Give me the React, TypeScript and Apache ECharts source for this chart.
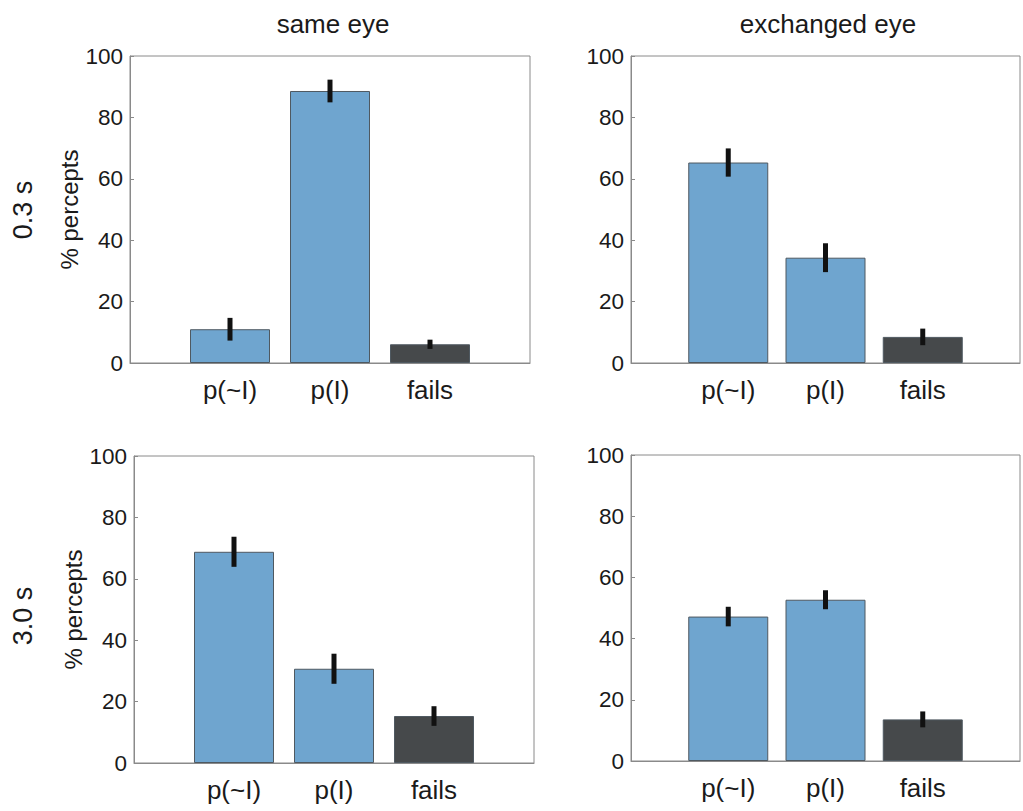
import React, { useEffect, useRef } from "react";
import * as echarts from "echarts";

const categories = ["p(~I)", "p(I)", "fails"];
const panelTitles = ["same eye", "exchanged eye"];
const rowLabels = ["0.3 s", "3.0 s"];
const yTicks = [0, 20, 40, 60, 80, 100];

// values [p(~I), p(I), fails], errors (half length)
const shortSame = [11.0, 88.6, 6.1];
const shortSameErr = [3.7, 3.7, 1.5];
const shortExch = [65.3, 34.3, 8.5];
const shortExchErr = [4.6, 4.7, 2.7];
const longSame = [68.8, 30.7, 15.3];
const longSameErr = [4.9, 4.9, 3.2];
const longExch = [47.2, 52.7, 13.6];
const longExchErr = [3.2, 3.1, 2.6];

const BLUE = "#6fa5cf";
const DARK = "#46494b";
const FRAME = "#8a8a8a";
const FONT = "Liberation Sans";
const TXT = "#1a1a1a";

const panels = [
  { vals: shortSame, errs: shortSameErr, grid: { left: 130, top: 56, width: 400, height: 307 }, yName: true },
  { vals: shortExch, errs: shortExchErr, grid: { left: 631, top: 56, width: 400, height: 307 }, yName: false },
  { vals: longSame, errs: longSameErr, grid: { left: 134, top: 456, width: 400, height: 307 }, yName: true },
  { vals: longExch, errs: longExchErr, grid: { left: 631, top: 455, width: 400, height: 306 }, yName: false },
];

export default function App() {
  const ref = useRef<HTMLDivElement>(null);
  useEffect(() => {
    if (!ref.current) return;
    const chart = echarts.init(ref.current, undefined, { renderer: "svg" });
    const grid: any[] = [];
    const xAxis: any[] = [];
    const yAxis: any[] = [];
    const series: any[] = [];
    panels.forEach((p, i) => {
      grid.push({ ...p.grid, show: true, borderColor: FRAME, borderWidth: 1, backgroundColor: "#fff" });
      xAxis.push({
        type: "value",
        gridIndex: i,
        min: 0,
        max: 4,
        interval: 1,
        splitLine: { show: false },
        axisTick: { show: false },
        axisLine: { show: true, onZero: false, lineStyle: { color: FRAME, width: 1 } },
        axisLabel: {
          margin: 14,
          fontFamily: FONT,
          fontSize: 26,
          color: TXT,
          formatter: (v: number) => (v >= 1 && v <= 3 ? categories[v - 1] : ""),
        },
      });
      yAxis.push({
        type: "value",
        gridIndex: i,
        min: 0,
        max: yTicks[yTicks.length - 1],
        interval: 20,
        splitLine: { show: false },
        axisLine: { show: true, lineStyle: { color: FRAME, width: 1 } },
        axisTick: { show: true, inside: true, length: 4, lineStyle: { color: FRAME } },
        axisLabel: { margin: 7, fontFamily: FONT, fontSize: 22.5, color: TXT },
        name: p.yName ? "% percepts" : "",
        nameLocation: "middle",
        nameRotate: 90,
        nameGap: 46,
        nameTextStyle: { fontFamily: FONT, fontSize: 24, color: TXT },
      });
      series.push({
        type: "bar",
        xAxisIndex: i,
        yAxisIndex: i,
        barWidth: 80,
        data: p.vals.map((v, k) => ({
          value: [k + 1, v],
          itemStyle: { color: k === 2 ? DARK : BLUE, borderColor: "#4f5961", borderWidth: 1 },
        })),
        z: 2,
      });
      series.push({
        type: "custom",
        xAxisIndex: i,
        yAxisIndex: i,
        data: p.vals.map((v, k) => [k + 1, v, p.errs[k]]),
        encode: { x: 0, y: 1 },
        z: 5,
        renderItem: (params: any, api: any) => {
          const x = api.value(0);
          const y = api.value(1);
          const e = api.value(2);
          const top = api.coord([x, y + e]);
          const bot = api.coord([x, y - e]);
          return {
            type: "rect",
            shape: { x: top[0] - 2.5, y: top[1], width: 5, height: bot[1] - top[1] },
            style: { fill: "#111" },
          };
        },
      });
    });
    const t = (text: string, x: number, y: number, size: number, rot = 0) => ({
      type: "text",
      x,
      y,
      rotation: rot,
      style: { text, font: `${size}px "${FONT}"`, fill: TXT, textAlign: "center", textVerticalAlign: "middle" },
    });
    const graphic: any[] = [
      t(panelTitles[0], 333, 24, 26),
      t(panelTitles[1], 828, 24, 26),
      t(rowLabels[0], 23, 210, 27, Math.PI / 2),
      t(rowLabels[1], 23, 616, 27, Math.PI / 2),
    ];
    chart.setOption({
      animation: false,
      backgroundColor: "#fff",
      grid,
      xAxis,
      yAxis,
      series,
      graphic,
    });
    return () => chart.dispose();
  }, []);
  return <div ref={ref} style={{ position: "absolute", left: 0, top: 0, width: 1023, height: 811 }} />;
}
